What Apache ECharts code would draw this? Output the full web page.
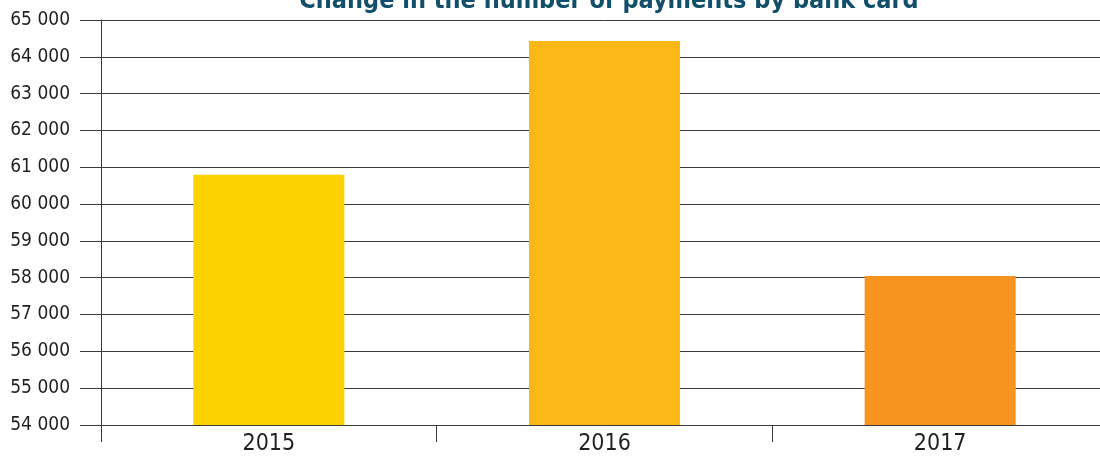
<!DOCTYPE html>
<html>
<head>
<meta charset="utf-8">
<script src="https://cdn.jsdelivr.net/npm/echarts@6/dist/echarts.min.js"></script>
<style>
  html, body { margin: 0; padding: 0; background: #fff; overflow: hidden; }
  /* the plot runs a few px past the right edge in the original */
  #chart { width: 1108px; height: 464px; }
</style>
</head>
<body>
<div id="chart"></div>
<script>
// data
const years = ['2015', '2016', '2017']
const payments = [60800, 64430, 58050]
const barColors = ['#fcd300', '#fbb817', '#f7941f']

const FONT = "'Liberation Sans Narrow', 'DejaVu Sans Condensed', sans-serif"

const chart = echarts.init(document.getElementById('chart'))

// 65000 -> "65 000"
const fmt = (v) => String(v).replace(/\B(?=(\d{3})+(?!\d))/g, ' ')

chart.setOption({
  animation: false,
  title: {
    text: 'Change in the number of payments by bank card',
    left: 604,
    textAlign: 'center',
    top: -16,
    textStyle: {
      color: '#124f6a',
      fontSize: 25,
      fontWeight: 'bold',
      fontFamily: FONT,
    },
  },
  grid: {
    left: 101,
    right: 0,
    top: 20,
    bottom: 39,
    containLabel: false,
  },
  xAxis: {
    type: 'category',
    data: years,
    axisLine: { lineStyle: { color: '#3a3a3a', width: 1 } },
    axisTick: { show: true, length: 17, lineStyle: { color: '#3a3a3a' } },
    axisLabel: {
      color: '#231f20',
      fontSize: 23,
      fontFamily: FONT,
      margin: 8,
    },
  },
  yAxis: {
    type: 'value',
    min: 54000,
    max: 65000,
    interval: 1000,
    axisLine: { show: true, lineStyle: { color: '#3a3a3a', width: 1 } },
    axisTick: { show: true, inside: false, length: 21, lineStyle: { color: '#3a3a3a', width: 1 } },
    splitLine: { show: true, lineStyle: { color: '#3a3a3a', width: 1 } },
    axisLabel: {
      color: '#231f20',
      fontSize: 19,
      fontFamily: FONT,
      margin: 31,
      formatter: fmt,
    },
  },
  series: [
    {
      type: 'bar',
      barWidth: '45%',
      data: payments.map((v, i) => ({ value: v, itemStyle: { color: barColors[i] } })),
    },
  ],
})
</script>
</body>
</html>
